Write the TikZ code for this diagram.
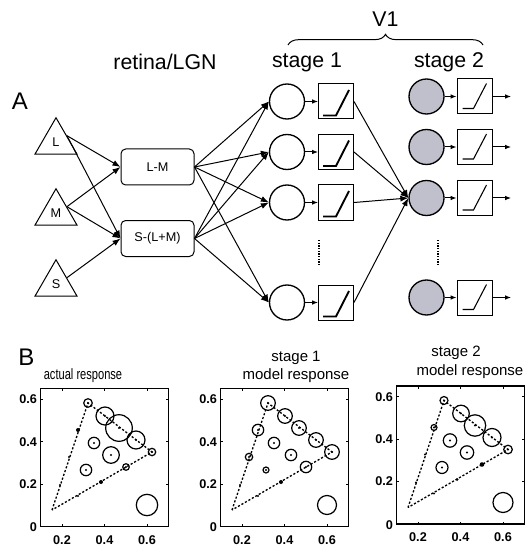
\documentclass[tikz,border=0pt]{standalone}
\usepackage{fontspec}
\setmainfont{Liberation Sans}
\usetikzlibrary{shapes.geometric,arrows.meta,decorations.pathreplacing,calc}
\definecolor{stagegray}{RGB}{192,192,204}
\tikzset{every picture/.style={line width=0.75pt}}
\tikzset{
  cone/.style={regular polygon, regular polygon sides=3, draw, inner sep=0pt, minimum size=36.4pt, font=\fontsize{9.5}{11}\selectfont},
  lgn/.style={draw, rounded corners=3.5pt, minimum width=54.75pt, minimum height=27pt, inner sep=0pt, font=\fontsize{9.5}{11}\selectfont},
  cell/.style={circle, draw, line width=1pt, minimum size=26.25pt, inner sep=0pt},
  rampbox/.style={draw, minimum size=26.25pt, inner sep=0pt},
  conn/.style={-{Latex[length=6pt,width=4.5pt]}},
  shortconn/.style={-{Latex[length=4.5pt,width=3.5pt]}},
  headline/.style={anchor=base, inner sep=0pt, font=\fontsize{16}{19}\selectfont},
  panel/.style={anchor=base, inner sep=0pt, font=\fontsize{18}{21}\selectfont},
  plottitle/.style={anchor=base, inner sep=0pt, font=\fontsize{11.25}{13}\selectfont},
  ticklab/.style={inner sep=0pt, font=\fontsize{9.5}{11}\selectfont\bfseries},
  frame/.style={line width=1pt},
  sweep/.style={line width=1pt, dash pattern=on 1.6pt off 1.4pt},
  resp/.style={circle, draw, line width=0.9pt, inner sep=0pt, minimum size={1.5pt*#1},
    path picture={\fill (path picture bounding box.center) circle (0.8pt);}},
  neg/.style={circle, fill, inner sep=0pt, minimum size={1.5pt*#1}},
  mk/.style={circle, fill, inner sep=0pt, minimum size=1.8pt},
  refc/.style={circle, draw, line width=0.9pt, inner sep=0pt, minimum size={1.5pt*#1}},
}

\begin{document}
\begin{tikzpicture}[x=0.75pt,y=0.75pt,yscale=-1,xscale=1]
	\useasboundingbox (0,0) rectangle (527,545);
	
	% Text Node
	\node[panel] (A) at (20,110) {A};
	% Text Node
	\node[headline] (retina) at (165,70) {retina/LGN};
	% Text Node
	\node[headline] (st1) at (307,68) {stage 1};
	% Text Node
	\node[headline] (st2) at (449,68) {stage 2};
	% Text Node
	\node[headline] (v1) at (385.5,27) {V1};
	%Brace
	\coordinate (brl) at (288,45);
	\coordinate (brr) at (483,45);
	\draw[decorate, decoration={brace, amplitude=8pt}] (brl) -- (brr);
	
	%Shape: Triangles (cones)
	\node[cone] (L) at (56,142) {L};
	\node[cone] (M) at (56,213) {M};
	\node[cone] (S) at (56,284) {S};
	%Shape: Rounded boxes
	\node[lgn] (LM) at (157.5,167) {L-M};
	\node[lgn] (SLM) at (157.5,238.5) {S-(L+M)};
	
	%Straight Lines: cones to retina/LGN
	\draw[conn] (L.side 3) -- (LM.west);
	\draw[conn] (L.side 3) -- (SLM.west);
	\draw[conn] (M.side 3) -- (LM.west);
	\draw[conn] (M.side 3) -- (SLM.west);
	\draw[conn] (S.side 3) -- (SLM.west);
	
	%Shape: Circles, stage 1
	\node[cell] (s1a) at (287,101.5) {};
	\node[cell] (s1b) at (287,152) {};
	\node[cell] (s1c) at (287,202.5) {};
	\node[cell] (s1d) at (287,302.5) {};
	%Shape: Ramp boxes, stage 1
	\node[rampbox] (r1a) at (336,101.5) {};
	\node[rampbox] (r1b) at (336,152) {};
	\node[rampbox] (r1c) at (336,202.5) {};
	\node[rampbox] (r1d) at (336,302.5) {};
	\draw[line width=1.4pt] ($(r1a)+(-13,14)$) -- ++(13,0) -- ++(13,-25.5);
	\draw[line width=1.4pt] ($(r1b)+(-13,14)$) -- ++(13,0) -- ++(13,-25.5);
	\draw[line width=1.4pt] ($(r1c)+(-13,14)$) -- ++(13,0) -- ++(13,-25.5);
	\draw[line width=1.4pt] ($(r1d)+(-13,14)$) -- ++(13,0) -- ++(13,-25.5);
	
	%Straight Lines: retina/LGN to stage 1
	\draw[conn] (LM.east) -- (s1a.west);
	\draw[conn] (LM.east) -- (s1b.west);
	\draw[conn] (LM.east) -- (s1c.west);
	\draw[conn] (LM.east) -- (s1d.west);
	\draw[conn] (SLM.east) -- (s1a.west);
	\draw[conn] (SLM.east) -- (s1b.west);
	\draw[conn] (SLM.east) -- (s1c.west);
	\draw[conn] (SLM.east) -- (s1d.west);
	\draw[shortconn] (s1a) -- (r1a);
	\draw[shortconn] (s1b) -- (r1b);
	\draw[shortconn] (s1c) -- (r1c);
	\draw[shortconn] (s1d) -- (r1d);
	
	%Shape: Circles, stage 2
	\node[cell, fill=stagegray] (t2a) at (426.5,96.5) {};
	\node[cell, fill=stagegray] (t2b) at (426.5,147) {};
	\node[cell, fill=stagegray] (t2c) at (426.5,198) {};
	\node[cell, fill=stagegray] (t2d) at (426.5,297.5) {};
	%Shape: Ramp boxes, stage 2
	\node[rampbox] (q2a) at (474.5,96.5) {};
	\node[rampbox] (q2b) at (474.5,147) {};
	\node[rampbox] (q2c) at (474.5,198) {};
	\node[rampbox] (q2d) at (474.5,297.5) {};
	\draw[line width=0.8pt] ($(q2a)+(-12,12)$) -- ++(11,0) -- ++(13,-25);
	\draw[line width=0.8pt] ($(q2b)+(-12,12)$) -- ++(11,0) -- ++(13,-25);
	\draw[line width=0.8pt] ($(q2c)+(-12,12)$) -- ++(11,0) -- ++(13,-25);
	\draw[line width=0.8pt] ($(q2d)+(-12,12)$) -- ++(11,0) -- ++(13,-25);
	\coordinate (o2a) at (511,96.5);
	\coordinate (o2b) at (511,147);
	\coordinate (o2c) at (511,198);
	\coordinate (o2d) at (511,297.5);
	
	%Straight Lines: stage 1 to stage 2
	\draw[conn] (r1a.east) -- (t2c.west);
	\draw[conn] (r1b.east) -- (t2c.west);
	\draw[conn] (r1c.east) -- (t2c.west);
	\draw[conn] (r1d.east) -- (t2c.west);
	\draw[shortconn] (t2a) -- (q2a);
	\draw[shortconn] (t2b) -- (q2b);
	\draw[shortconn] (t2c) -- (q2c);
	\draw[shortconn] (t2d) -- (q2d);
	\draw[shortconn] (q2a.east) -- (o2a);
	\draw[shortconn] (q2b.east) -- (o2b);
	\draw[shortconn] (q2c.east) -- (o2c);
	\draw[shortconn] (q2d.east) -- (o2d);
	%Dotted Lines
	\draw[densely dotted, line width=1pt] (319,240) -- (319,265);
	\draw[densely dotted, line width=1pt] (438,240) -- (438,265);
	
	% Text Node
	\node[panel] (B) at (26.5,365) {B};
	
	%Plot: actual response
	\node[plottitle] (a-title) at (83,379) {\scalebox{0.74}[1]{actual response}};
	\draw[frame] (40.7,388.5) rectangle (168.3,526.5);
	\draw (62,526.5) -- (62,524) (104.5,526.5) -- (104.5,524) (147,526.5) -- (147,524);
	\draw (62,388.5) -- (62,391) (104.5,388.5) -- (104.5,391) (147,388.5) -- (147,391);
	\draw (40.7,484.1) -- (43.2,484.1) (40.7,441.7) -- (43.2,441.7) (40.7,399.3) -- (43.2,399.3);
	\draw (168.3,484.1) -- (165.8,484.1) (168.3,441.7) -- (165.8,441.7) (168.3,399.3) -- (165.8,399.3);
	\node[ticklab, anchor=north] (a-x2) at (62,535) {0.2};
	\node[ticklab, anchor=north] (a-x4) at (104.5,535) {0.4};
	\node[ticklab, anchor=north] (a-x6) at (147,535) {0.6};
	\node[ticklab, anchor=east] (a-y0) at (37.5,527.5) {0};
	\node[ticklab, anchor=east] (a-y2) at (37.5,484.1) {0.2};
	\node[ticklab, anchor=east] (a-y4) at (37.5,441.7) {0.4};
	\node[ticklab, anchor=east] (a-y6) at (37.5,399.3) {0.6};
	\coordinate (a-o) at (52,510);
	\coordinate (a-v) at (88,403);
	\coordinate (a-w) at (152,452);
	\draw[sweep] (a-o) -- (a-v) -- (a-w) -- cycle;
	\node[resp=4.3] (a-1) at (a-v) {};
	\node[resp=9] (a-2) at (105,416) {};
	\node[resp=13.3] (a-3) at (119,428) {};
	\node[resp=9] (a-4) at (136,440) {};
	\node[resp=3.7] (a-5) at (a-w) {};
	\node[neg=2] (a-6) at (78,430) {};
	\node[mk] (a-7) at (69,457) {};
	\node[mk] (a-8) at (60,485) {};
	\node[resp=5.7] (a-9) at (94,443) {};
	\node[resp=8.3] (a-10) at (111,455) {};
	\node[resp=5.7] (a-11) at (86,470) {};
	\node[resp=3.3] (a-12) at (126,467) {};
	\node[neg=2] (a-13) at (101,482) {};
	\node[mk] (a-14) at (78,496) {};
	\node[refc=10.7] (a-ref) at (147,505) {};
	
	%Plot: stage 1 model response
	\begin{scope}[shift={(180,0)}]
	\node[plottitle] (b-title1) at (116,361) {stage 1};
	\node[plottitle] (b-title2) at (116,379) {model response};
	\draw[frame] (40.7,388.5) rectangle (168.3,526.5);
	\draw (62,526.5) -- (62,524) (104.5,526.5) -- (104.5,524) (147,526.5) -- (147,524);
	\draw (62,388.5) -- (62,391) (104.5,388.5) -- (104.5,391) (147,388.5) -- (147,391);
	\draw (40.7,484.1) -- (43.2,484.1) (40.7,441.7) -- (43.2,441.7) (40.7,399.3) -- (43.2,399.3);
	\draw (168.3,484.1) -- (165.8,484.1) (168.3,441.7) -- (165.8,441.7) (168.3,399.3) -- (165.8,399.3);
	\node[ticklab, anchor=north] (b-x2) at (62,535) {0.2};
	\node[ticklab, anchor=north] (b-x4) at (104.5,535) {0.4};
	\node[ticklab, anchor=north] (b-x6) at (147,535) {0.6};
	\node[ticklab, anchor=east] (b-y0) at (37.5,527.5) {0};
	\node[ticklab, anchor=east] (b-y2) at (37.5,484.1) {0.2};
	\node[ticklab, anchor=east] (b-y4) at (37.5,441.7) {0.4};
	\node[ticklab, anchor=east] (b-y6) at (37.5,399.3) {0.6};
	\coordinate (b-o) at (52,510);
	\coordinate (b-v) at (88,403);
	\coordinate (b-w) at (152,452);
	\draw[sweep] (b-o) -- (b-v) -- (b-w) -- cycle;
	\node[resp=7.3] (b-1) at (b-v) {};
	\node[resp=7.3] (b-2) at (105,416) {};
	\node[resp=7.3] (b-3) at (119,428) {};
	\node[resp=7.3] (b-4) at (136,440) {};
	\node[resp=7.3] (b-5) at (b-w) {};
	\node[resp=5.7] (b-6) at (78,430) {};
	\node[resp=3.7] (b-7) at (69,457) {};
	\node[mk] (b-8) at (60,485) {};
	\node[resp=5.7] (b-9) at (94,443) {};
	\node[resp=5.7] (b-10) at (111,455) {};
	\node[resp=3] (b-11) at (86,470) {};
	\node[resp=5.7] (b-12) at (126,467) {};
	\node[neg=2] (b-13) at (101,482) {};
	\node[mk] (b-14) at (78,496) {};
	\node[refc=9.5] (b-ref) at (147,505) {};
	\end{scope}
	
	%Plot: stage 2 model response
	\begin{scope}[shift={(356,-2.5)}]
	\node[plottitle] (c-title1) at (100,358.5) {stage 2};
	\node[plottitle] (c-title2) at (114,377.5) {model response};
	\draw[frame] (40.7,388.5) rectangle (168.3,526.5);
	\draw (62,526.5) -- (62,524) (104.5,526.5) -- (104.5,524) (147,526.5) -- (147,524);
	\draw (62,388.5) -- (62,391) (104.5,388.5) -- (104.5,391) (147,388.5) -- (147,391);
	\draw (40.7,484.1) -- (43.2,484.1) (40.7,441.7) -- (43.2,441.7) (40.7,399.3) -- (43.2,399.3);
	\draw (168.3,484.1) -- (165.8,484.1) (168.3,441.7) -- (165.8,441.7) (168.3,399.3) -- (165.8,399.3);
	\node[ticklab, anchor=north] (c-x2) at (62,535) {0.2};
	\node[ticklab, anchor=north] (c-x4) at (104.5,535) {0.4};
	\node[ticklab, anchor=north] (c-x6) at (147,535) {0.6};
	\node[ticklab, anchor=east] (c-y0) at (37.5,527.5) {0};
	\node[ticklab, anchor=east] (c-y2) at (37.5,484.1) {0.2};
	\node[ticklab, anchor=east] (c-y4) at (37.5,441.7) {0.4};
	\node[ticklab, anchor=east] (c-y6) at (37.5,399.3) {0.6};
	\coordinate (c-o) at (52,510);
	\coordinate (c-v) at (88,403);
	\coordinate (c-w) at (152,452);
	\draw[sweep] (c-o) -- (c-v) -- (c-w) -- cycle;
	\node[resp=4] (c-1) at (c-v) {};
	\node[resp=8.3] (c-2) at (105,416) {};
	\node[resp=10.7] (c-3) at (119,428) {};
	\node[resp=9] (c-4) at (136,440) {};
	\node[resp=4.3] (c-5) at (c-w) {};
	\node[resp=3] (c-6) at (78,430) {};
	\node[mk] (c-7) at (69,457) {};
	\node[mk] (c-8) at (60,485) {};
	\node[resp=6.7] (c-9) at (94,443) {};
	\node[resp=6.7] (c-10) at (111,455) {};
	\node[resp=6] (c-11) at (86,470) {};
	\node[neg=2.3] (c-12) at (126,467) {};
	\node[neg=1.5] (c-13) at (101,482) {};
	\node[mk] (c-14) at (78,496) {};
	\node[refc=10] (c-ref) at (147,505) {};
	\end{scope}
	
\end{tikzpicture}
\end{document}
